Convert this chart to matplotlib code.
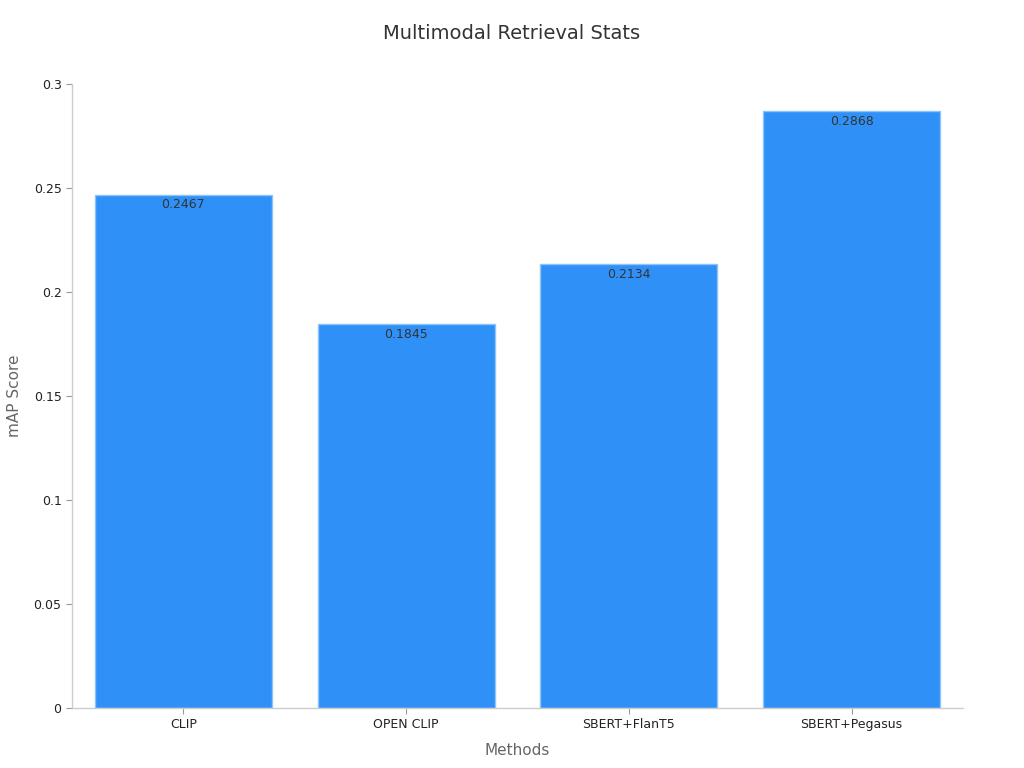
import matplotlib
matplotlib.use("Agg")
import matplotlib.pyplot as plt

methods = ["CLIP", "OPEN CLIP", "SBERT+FlanT5", "SBERT+Pegasus"]
map_scores = [0.2467, 0.1845, 0.2134, 0.2868]
yticks = [0, 0.05, 0.1, 0.15, 0.2, 0.25, 0.3]
ytick_labels = ["0", "0.05", "0.1", "0.15", "0.2", "0.25", "0.3"]

plt.rcParams['font.family'] = ['DejaVu Sans']
fig = plt.figure(figsize=(10.24, 7.68), dpi=100)
ax = fig.add_axes([0.0703, 0.0781, 0.8701, 0.8125])

x = list(range(len(methods)))
bars = ax.bar(x, map_scores, width=0.795, color="#2f91f8", edgecolor="#8cc4fb", linewidth=1)
for xi, v in zip(x, map_scores):
    ax.annotate(f"{v:.4f}", (xi, v), xytext=(0, -2.5), textcoords="offset points",
                ha="center", va="top", fontsize=9, color="#333333")

ax.set_xlim(-0.5, 3.5)
ax.set_ylim(0, 0.3)
ax.set_yticks(yticks)
ax.set_yticklabels(ytick_labels)
ax.set_xticks(x)
ax.set_xticklabels(methods)
ax.tick_params(axis="both", labelsize=9, colors="#222222", length=4, width=0.8)
ax.tick_params(axis="both", color="#999999")
for s in ["top", "right"]:
    ax.spines[s].set_visible(False)
for s in ["left", "bottom"]:
    ax.spines[s].set_color("#cccccc")
    ax.spines[s].set_linewidth(1)

ax.set_xlabel("Methods", fontsize=11, color="#666666", labelpad=8)
ax.set_ylabel("mAP Score", fontsize=11, color="#666666", labelpad=8)
fig.text(0.5, 0.956, "Multimodal Retrieval Stats", ha="center", va="center", fontsize=14, color="#333333")

fig.savefig("out.png", dpi=100)
